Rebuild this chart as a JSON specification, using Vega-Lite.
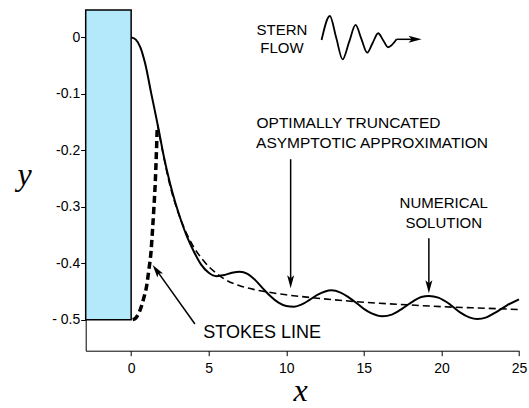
{
  "$schema": "https://vega.github.io/schema/vega-lite/v6.json",
  "width": 433.3,
  "height": 340.7,
  "autosize": "none",
  "padding": {"left": 85.7, "top": 10, "right": 10, "bottom": 57.3},
  "background": "white",
  "config": {"view": {"stroke": null}, "font": "Liberation Sans"},
  "datasets": {
    "block": [{"x": -2.93, "x2": 0, "y": -0.5, "y2": 0.0485}],
    "numerical": [
      {"x": 0, "y": 0}, {"x": 0.3, "y": -0.004}, {"x": 0.6, "y": -0.018}, {"x": 0.9, "y": -0.046},
      {"x": 1.3, "y": -0.1}, {"x": 1.75, "y": -0.16}, {"x": 2.1, "y": -0.21}, {"x": 2.5, "y": -0.258},
      {"x": 2.85, "y": -0.293}, {"x": 3.2, "y": -0.323}, {"x": 3.6, "y": -0.353}, {"x": 4.0, "y": -0.377},
      {"x": 4.5, "y": -0.402}, {"x": 5.0, "y": -0.417}, {"x": 5.5, "y": -0.423}, {"x": 6.0, "y": -0.421},
      {"x": 6.5, "y": -0.417}, {"x": 7.0, "y": -0.415}, {"x": 7.5, "y": -0.419}, {"x": 8.0, "y": -0.43},
      {"x": 8.5, "y": -0.445}, {"x": 9.0, "y": -0.459}, {"x": 9.5, "y": -0.47}, {"x": 10.0, "y": -0.476},
      {"x": 10.5, "y": -0.477}, {"x": 11.0, "y": -0.473}, {"x": 11.5, "y": -0.465}, {"x": 12.0, "y": -0.456},
      {"x": 12.5, "y": -0.45}, {"x": 12.9, "y": -0.448}, {"x": 13.5, "y": -0.452}, {"x": 14.0, "y": -0.46},
      {"x": 14.5, "y": -0.47}, {"x": 15.0, "y": -0.481}, {"x": 15.5, "y": -0.489}, {"x": 16.2, "y": -0.494},
      {"x": 16.8, "y": -0.491}, {"x": 17.5, "y": -0.48}, {"x": 18.2, "y": -0.467}, {"x": 18.7, "y": -0.46},
      {"x": 19.2, "y": -0.458}, {"x": 19.8, "y": -0.461}, {"x": 20.5, "y": -0.472}, {"x": 21.2, "y": -0.487},
      {"x": 21.8, "y": -0.496}, {"x": 22.3, "y": -0.499}, {"x": 22.9, "y": -0.496}, {"x": 23.5, "y": -0.487},
      {"x": 24.2, "y": -0.475}, {"x": 25, "y": -0.464}
    ],
    "asymptotic": [
      {"x": 1.7, "y": -0.155}, {"x": 2.0, "y": -0.198}, {"x": 2.5, "y": -0.262}, {"x": 3.0, "y": -0.308},
      {"x": 3.5, "y": -0.343}, {"x": 4.0, "y": -0.37}, {"x": 4.5, "y": -0.39}, {"x": 5.0, "y": -0.406},
      {"x": 5.5, "y": -0.418}, {"x": 6.0, "y": -0.428}, {"x": 7.0, "y": -0.44}, {"x": 8.0, "y": -0.447},
      {"x": 9.0, "y": -0.452}, {"x": 10.0, "y": -0.456}, {"x": 12.0, "y": -0.462}, {"x": 14.0, "y": -0.467},
      {"x": 16.0, "y": -0.471}, {"x": 18.0, "y": -0.474}, {"x": 20.0, "y": -0.477}, {"x": 22.0, "y": -0.479},
      {"x": 25.0, "y": -0.482}
    ],
    "stokes": [
      {"x": 0.1, "y": -0.5}, {"x": 0.3, "y": -0.497}, {"x": 0.55, "y": -0.485}, {"x": 0.8, "y": -0.463},
      {"x": 1.0, "y": -0.44}, {"x": 1.15, "y": -0.41}, {"x": 1.28, "y": -0.38}, {"x": 1.38, "y": -0.34},
      {"x": 1.47, "y": -0.3}, {"x": 1.55, "y": -0.26}, {"x": 1.62, "y": -0.21}, {"x": 1.68, "y": -0.16}
    ],
    "wave": [
      {"x": 12.274, "y": -0.0046}, {"x": 12.809, "y": 0.0379}, {"x": 13.215, "y": -0.0004},
      {"x": 13.628, "y": -0.0388}, {"x": 14.046, "y": -0.0085}, {"x": 14.465, "y": 0.022},
      {"x": 14.839, "y": -0.0025}, {"x": 15.213, "y": -0.0271}, {"x": 15.567, "y": -0.0099},
      {"x": 15.921, "y": 0.0073}, {"x": 16.244, "y": -0.0051}, {"x": 16.566, "y": -0.0175},
      {"x": 17.107, "y": -0.0034}
    ],
    "arrows": [
      {"x": 10.28, "y": -0.2158, "x2": 10.28, "y2": -0.4298},
      {"x": 19.19, "y": -0.3559, "x2": 19.19, "y2": -0.4386},
      {"x": 4.11, "y": -0.5076, "x2": 1.69, "y2": -0.4144},
      {"x": 17.1, "y": -0.0034, "x2": 18.3, "y2": -0.0034}
    ],
    "heads_down": [{"x": 10.28, "y": -0.4445}, {"x": 19.19, "y": -0.4533}],
    "head_stokes": [{"x": 1.385, "y": -0.4032}],
    "head_wave": [{"x": 18.72, "y": -0.0034}],
    "labels_center": [
      {"x": 9.72, "y": 0.0131, "label": "STERN"},
      {"x": 9.72, "y": -0.0188, "label": "FLOW"},
      {"x": 20.15, "y": -0.2934, "label": "NUMERICAL"},
      {"x": 20.15, "y": -0.3283, "label": "SOLUTION"}
    ],
    "labels_left": [
      {"x": 8.08, "y": -0.1522, "label": "OPTIMALLY TRUNCATED"},
      {"x": 8.05, "y": -0.1876, "label": "ASYMPTOTIC APPROXIMATION"}
    ],
    "label_stokes": [{"x": 4.65, "y": -0.5242, "label": "STOKES LINE"}]
  },
  "encoding": {
    "x": {
      "field": "x", "type": "quantitative",
      "scale": {"domain": [-2.93, 25], "nice": false, "zero": false},
      "axis": {
        "values": [0, 5, 10, 15, 20, 25], "title": "x", "grid": false,
        "domainColor": "black", "tickColor": "black", "tickSize": 5,
        "labelFontSize": 14, "labelColor": "black", "labelPadding": 6, "labelFlush": false,
        "titleFont": "Liberation Serif", "titleFontStyle": "italic", "titleFontWeight": "normal",
        "titleFontSize": 32, "titleColor": "black", "titleX": 214.3, "titleY": 57,
        "titleBaseline": "bottom", "titleAlign": "center"
      }
    },
    "y": {
      "field": "y", "type": "quantitative",
      "scale": {"domain": [-0.555, 0.0485], "nice": false, "zero": false},
      "axis": {
        "values": [0, -0.1, -0.2, -0.3, -0.4, -0.5], "title": "y", "grid": false,
        "labelExpr": "datum.value == 0 ? '0\u00a0\u00a0' : datum.value < -0.45 ? '- 0.5' : '-' + format(-datum.value, '.1f')",
        "domainColor": "black", "tickColor": "black", "tickSize": 5,
        "labelFontSize": 14, "labelColor": "black", "labelPadding": 1, "labelFlush": false,
        "titleFont": "Liberation Serif", "titleFontStyle": "italic", "titleFontWeight": "normal",
        "titleFontSize": 32, "titleColor": "black", "titleAngle": 0, "titleX": -61.7, "titleY": 174,
        "titleBaseline": "alphabetic", "titleAlign": "center"
      }
    }
  },
  "layer": [
    {
      "data": {"name": "block"},
      "mark": {"type": "rect", "fill": "#b3e9fb", "stroke": "black", "strokeWidth": 1.5},
      "encoding": {"x2": {"field": "x2"}, "y2": {"field": "y2"}}
    },
    {
      "data": {"name": "asymptotic"},
      "mark": {"type": "line", "color": "black", "strokeWidth": 1.6, "strokeDash": [7, 4], "interpolate": "monotone"}
    },
    {
      "data": {"name": "stokes"},
      "mark": {"type": "line", "color": "black", "strokeWidth": 3.5, "strokeDash": [7, 4], "interpolate": "monotone"}
    },
    {
      "data": {"name": "numerical"},
      "mark": {"type": "line", "color": "black", "strokeWidth": 2, "interpolate": "monotone"}
    },
    {
      "data": {"name": "wave"},
      "mark": {"type": "line", "color": "black", "strokeWidth": 1.8, "interpolate": "monotone"}
    },
    {
      "data": {"name": "arrows"},
      "mark": {"type": "rule", "color": "black", "strokeWidth": 1.5},
      "encoding": {"x2": {"field": "x2"}, "y2": {"field": "y2"}}
    },
    {
      "data": {"name": "heads_down"},
      "mark": {"type": "point", "shape": "M0,0 L-0.35,-1.3 L0,-1 L0.35,-1.3 Z", "filled": true, "color": "black", "opacity": 1, "size": 400, "angle": 0}
    },
    {
      "data": {"name": "head_stokes"},
      "mark": {"type": "point", "shape": "M0,0 L-0.35,-1.3 L0,-1 L0.35,-1.3 Z", "filled": true, "color": "black", "opacity": 1, "size": 400, "angle": 144.4}
    },
    {
      "data": {"name": "head_wave"},
      "mark": {"type": "point", "shape": "M0,0 L-0.35,-1.3 L0,-1 L0.35,-1.3 Z", "filled": true, "color": "black", "opacity": 1, "size": 400, "angle": -90}
    },
    {
      "data": {"name": "labels_center"},
      "mark": {"type": "text", "font": "Liberation Sans", "fontSize": 15, "color": "black", "align": "center", "baseline": "middle"},
      "encoding": {"text": {"field": "label"}}
    },
    {
      "data": {"name": "labels_left"},
      "mark": {"type": "text", "font": "Liberation Sans", "fontSize": 15.5, "color": "black", "align": "left", "baseline": "middle"},
      "encoding": {"text": {"field": "label"}}
    },
    {
      "data": {"name": "label_stokes"},
      "mark": {"type": "text", "font": "Liberation Sans", "fontSize": 18, "color": "black", "align": "left", "baseline": "middle"},
      "encoding": {"text": {"field": "label"}}
    }
  ]
}
